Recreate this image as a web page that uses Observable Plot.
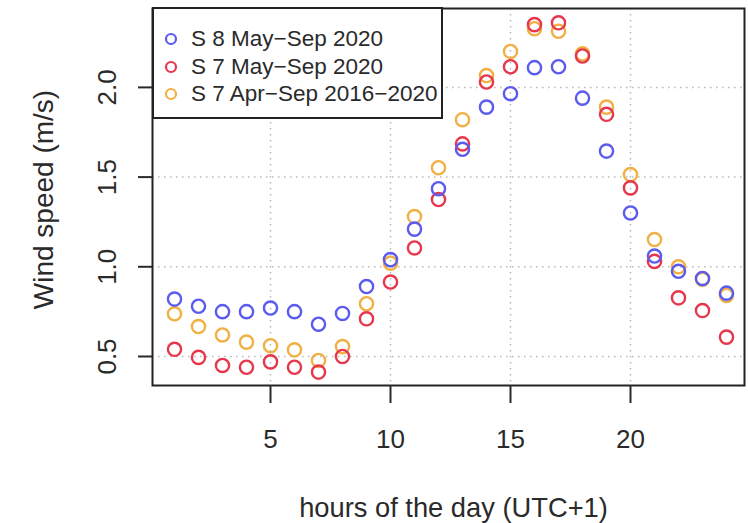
<!DOCTYPE html>
<html>
<head>
<meta charset="utf-8">
<script src="https://cdn.jsdelivr.net/npm/d3@7"></script>
<script src="https://cdn.jsdelivr.net/npm/@observablehq/plot@0.6"></script>
<style>
  html, body { margin: 0; padding: 0; background: #fff; overflow: hidden; }
  #wrap { position: relative; width: 748px; height: 523px; overflow: hidden; font-family: "Liberation Sans", Arial, sans-serif; }
  #legend { position: absolute; left: 152px; top: 7px; width: 291px; height: 112px; box-sizing: border-box;
            border: 2px solid #222; background: #fff; }
  .item { position: absolute; left: 0; height: 28px; display: flex; align-items: center; }
  .item svg { margin-left: 10px; margin-right: 13px; }
  .item span { font-size: 22.5px; color: #2a2a2a; white-space: nowrap; }
</style>
</head>
<body>
<div id="wrap"></div>
<script>
const hours = [1,2,3,4,5,6,7,8,9,10,11,12,13,14,15,16,17,18,19,20,21,22,23,24];
const seriesNames = ["S 8 May\u2212Sep 2020", "S 7 May\u2212Sep 2020", "S 7 Apr\u2212Sep 2016\u22122020"];
const seriesColors = ["#5b5bef", "#e6374c", "#f1b043"];
const s8May2020 = [0.82,0.78,0.75,0.75,0.77,0.75,0.68,0.74,0.89,1.04,1.21,1.435,1.655,1.89,1.965,2.11,2.115,1.94,1.645,1.30,1.06,0.975,0.935,0.853];
const s7May2020 = [0.54,0.495,0.45,0.44,0.47,0.44,0.413,0.50,0.71,0.915,1.105,1.375,1.685,2.03,2.115,2.35,2.36,2.175,1.85,1.44,1.03,0.827,0.756,0.608];
const s7Apr20162020 = [0.738,0.667,0.62,0.58,0.56,0.537,0.478,0.555,0.794,1.02,1.28,1.552,1.82,2.066,2.20,2.327,2.313,2.187,1.89,1.514,1.152,1.00,0.93,0.84];
const xTicks = [5,10,15,20];
const yTicks = [0.5,1.0,1.5,2.0];
const xTitle = "hours of the day (UTC+1)";
const yTitle = "Wind speed (m/s)";

const seriesValues = [s8May2020, s7May2020, s7Apr20162020];
// draw order: orange first, then red, then blue on top
const rows = [];
for (let s = seriesValues.length - 1; s >= 0; s--) {
  hours.forEach((h, i) => rows.push({hour: h, value: seriesValues[s][i], series: seriesNames[s]}));
}

const font = "Liberation Sans, Arial, sans-serif";
const ink = "#2a2a2a";
const chart = Plot.plot({
  width: 748,
  height: 523,
  marginLeft: 152,
  marginRight: 4,
  marginTop: 8,
  marginBottom: 138,
  style: {fontFamily: font, background: "#fff"},
  x: {domain: [0.083, 24.75]},
  y: {domain: [0.3383, 2.4398]},
  color: {domain: seriesNames, range: seriesColors},
  marks: [
    Plot.gridX(xTicks, {stroke: "#b8b8b8", strokeOpacity: 1, strokeWidth: 1.5, strokeDasharray: "1.5,4.5"}),
    Plot.gridY(yTicks, {stroke: "#b8b8b8", strokeOpacity: 1, strokeWidth: 1.5, strokeDasharray: "1.5,4.5"}),
    Plot.dot(rows, {x: "hour", y: "value", stroke: "series", r: 6.6, strokeWidth: 2.4}),
    Plot.frame({stroke: "#222", strokeWidth: 2}),
    Plot.axisX(xTicks, {tickSize: 18, tickFormat: () => "", label: null, color: ink, strokeWidth: 2}),
    Plot.axisY(yTicks, {tickSize: 14, tickFormat: () => "", label: null, color: ink, strokeWidth: 2}),
    Plot.text(xTicks, {x: d => d, text: d => String(d), frameAnchor: "bottom", dy: 54,
                       fontSize: 26, fill: ink, lineAnchor: "middle"}),
    Plot.text(yTicks, {y: d => d, text: d => d3.format(".1f")(d), frameAnchor: "left", dx: -45, rotate: -90,
                       fontSize: 26, fill: ink, lineAnchor: "middle", textAnchor: "middle"}),
    Plot.text([xTitle], {text: d => d, frameAnchor: "bottom", dx: 5, dy: 123, fontSize: 27.3, fill: ink, lineAnchor: "middle"}),
    Plot.text([yTitle], {text: d => d, frameAnchor: "left", dx: -108, dy: 2.5, rotate: -90, fontSize: 28,
                         fill: ink, lineAnchor: "middle", textAnchor: "middle"})
  ]
});
const wrap = document.getElementById("wrap");
wrap.appendChild(chart);

const legend = document.createElement("div");
legend.id = "legend";
seriesNames.forEach((name, i) => {
  const item = document.createElement("div");
  item.className = "item";
  item.style.top = (16 + i * 27.5) + "px";
  item.innerHTML = `<svg width="14" height="14"><circle cx="7" cy="7" r="5" fill="none" stroke="${seriesColors[i]}" stroke-width="2.2"/></svg><span>${name}</span>`;
  legend.appendChild(item);
});
wrap.appendChild(legend);
</script>
</body>
</html>
